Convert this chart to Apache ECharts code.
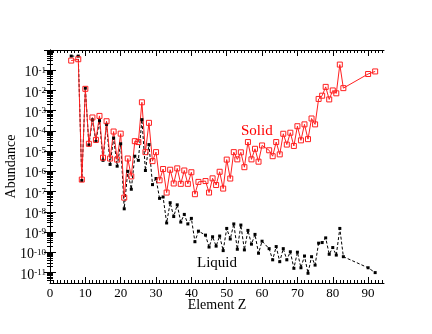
<!DOCTYPE html>
<html>
<head>
<meta charset="utf-8">
<script src="https://cdn.jsdelivr.net/npm/echarts@6/dist/echarts.min.js"></script>
<style>
  html, body { margin: 0; padding: 0; background: #fff; }
  #chart { width: 432px; height: 334px; }
</style>
</head>
<body>
<div id="chart"></div>
<script>
// element numbers (Tc 43, Pm 61, 84-89, 91 not present)
const elementZ = [6, 8, 9, 10, 11, 12, 13, 14, 15, 16, 17, 18, 19, 20, 21, 22, 23, 24, 25, 26,
  27, 28, 29, 30, 31, 32, 33, 34, 35, 36, 37, 38, 39, 40, 41, 42, 44, 45, 46, 47,
  48, 49, 50, 51, 52, 53, 54, 55, 56, 57, 58, 59, 60, 62, 63, 64, 65, 66, 67, 68,
  69, 70, 71, 72, 73, 74, 75, 76, 77, 78, 79, 80, 81, 82, 83, 90, 92];

const solid = [0.3, 0.35, 3.9e-7, 1.2e-2, 2.3e-5, 4.6e-4, 3.6e-5, 5.5e-4, 4.7e-6, 3.0e-4,
  4.3e-6, 9.3e-5, 3.8e-6, 7.3e-5, 5e-8, 4.3e-6, 5.6e-7, 3.1e-5, 2.8e-5, 2.6e-3,
  8.9e-6, 2.5e-4, 3.2e-6, 8.9e-6, 3.6e-7, 1.3e-6, 8.9e-8, 1.2e-6, 2.5e-7, 1.4e-6,
  2.4e-7, 1.1e-6, 2.4e-7, 9e-7, 7.4e-8, 3.0e-7, 3.3e-7, 8.9e-8, 4.5e-7, 2.1e-7,
  9.5e-7, 1.4e-7, 3.8e-6, 4.4e-7, 8.9e-6, 3.9e-6, 8.7e-6, 1.6e-6, 2.8e-5, 3.9e-6,
  1.3e-5, 3.0e-6, 1.9e-5, 1.1e-5, 5.6e-6, 2.8e-5, 6.9e-6, 7.2e-5, 2.1e-5, 8.1e-5,
  1.8e-5, 1.7e-4, 3.4e-5, 2.1e-4, 3.9e-5, 4.1e-4, 2.1e-4, 3.8e-3, 5.5e-3, 1.5e-2,
  3.6e-3, 1.0e-2, 7.2e-3, 0.19, 1.3e-2, 6.5e-2, 8.7e-2];

const liquid = [0.5, 0.5, 3.5e-7, 1.3e-2, 2.0e-5, 3.5e-4, 3.0e-5, 3.2e-4, 3.5e-6, 2.1e-4,
  2.2e-6, 4.4e-5, 1.8e-6, 2.3e-5, 1.4e-8, 1e-6, 1.3e-7, 5.6e-6, 3.5e-6, 3.6e-4,
  1.1e-6, 2.1e-5, 2.2e-7, 4.4e-7, 4.6e-8, 5.4e-8, 2.8e-9, 2.8e-8, 5.8e-9, 2.2e-8,
  3.1e-9, 7.4e-9, 2.5e-9, 4.7e-9, 3.3e-10, 1.1e-9, 7.0e-10, 1.8e-10, 5.8e-10, 2.0e-10,
  6.3e-10, 1.2e-10, 1.5e-9, 4.5e-10, 2.5e-9, 1.4e-10, 2.2e-9, 1.3e-10, 1.2e-9, 2.5e-10,
  7.6e-10, 8.9e-11, 3.5e-10, 1.5e-10, 4.2e-11, 1.9e-10, 3.4e-11, 1.5e-10, 4.2e-11, 1.05e-10,
  1.6e-11, 1.0e-10, 1.7e-11, 6.5e-11, 9.1e-12, 6.0e-11, 2.3e-11, 2.8e-10, 3.0e-10, 5.1e-10,
  7.9e-11, 1.7e-10, 7.2e-11, 1.5e-9, 6.0e-11, 1.7e-11, 9.8e-12];

const xMajor = [0, 10, 20, 30, 40, 50, 60, 70, 80, 90];
const yMajor = [1e-11, 1e-10, 1e-9, 1e-8, 1e-7, 1e-6, 1e-5, 1e-4, 1e-3, 1e-2, 1e-1];

const font = 'Liberation Serif';
const X_MIN = 0, X_MAX = 94.5;
const Y_MIN = 3e-12, Y_MAX = 1;

// minor ticks
const xMinor = [];
for (let i = 1; i < 95; i++) if (i % 10) xMinor.push(i);
const yMinor = [];
for (let e = -12; e < 0; e++) {
  for (let k = 2; k <= 9; k++) {
    const v = k * Math.pow(10, e);
    if (v > Y_MIN && v < Y_MAX) yMinor.push(v);
  }
}
const yMajorTicks = yMajor.concat([1]);

function xAxisDef(pos, values, len, line, labels) {
  return {
    type: 'value', position: pos, min: X_MIN, max: X_MAX,
    axisLine: { show: line, lineStyle: { color: '#000', width: 1 } },
    axisTick: { show: true, inside: true, length: len, customValues: values,
      lineStyle: { color: '#000', width: 1 } },
    axisLabel: labels ? {
      show: true, customValues: xMajor, margin: 4,
      fontFamily: font, fontSize: 13, color: '#000'
    } : { show: false },
    splitLine: { show: false },
    name: labels ? 'Element Z' : '',
    nameLocation: 'middle', nameGap: 15, nameMoveOverlap: false,
    nameTextStyle: { fontFamily: font, fontSize: 14, color: '#000' }
  };
}

function yAxisDef(pos, values, len, line, labels) {
  return {
    type: 'log', logBase: 10, position: pos, min: Y_MIN, max: Y_MAX,
    axisLine: { show: line, lineStyle: { color: '#000', width: 1 } },
    axisTick: { show: true, inside: true, length: len, customValues: values,
      lineStyle: { color: '#000', width: 1 } },
    axisLabel: labels ? {
      show: true, customValues: yMajor, margin: 4,
      padding: [5, 0, 0, 0],
      formatter: function (v) {
        return '{b|10}{s|' + Math.round(Math.log10(v)) + '}';
      },
      rich: {
        b: { fontFamily: font, fontSize: 14, lineHeight: 14, color: '#000', verticalAlign: 'bottom' },
        s: { fontFamily: font, fontSize: 9, lineHeight: 10, color: '#000', verticalAlign: 'top' }
      }
    } : { show: false },
    splitLine: { show: false },
    name: labels ? 'Abundance' : '',
    nameLocation: 'middle', nameGap: 32, nameRotate: 90, nameMoveOverlap: false,
    nameTextStyle: { fontFamily: font, fontSize: 14, color: '#000' }
  };
}

const chart = echarts.init(document.getElementById('chart'), null, { renderer: 'canvas' });

const option = {
  backgroundColor: '#fff',
  animation: false,
  grid: { left: 50, right: 48, top: 50, bottom: 51, containLabel: false, outerBoundsMode: 'none' },
  xAxis: [
    xAxisDef('bottom', xMajor, 6, true, true),
    xAxisDef('bottom', xMinor, 3, false, false),
    xAxisDef('top', xMajor, 6, true, false),
    xAxisDef('top', xMinor, 3, false, false)
  ],
  yAxis: [
    yAxisDef('left', yMajorTicks, 6, true, true),
    yAxisDef('left', yMinor, 3, false, false),
    yAxisDef('right', yMajorTicks, 6, true, false),
    yAxisDef('right', yMinor, 3, false, false)
  ],
  series: [
    {
      name: 'Liquid', type: 'line', xAxisIndex: 0, yAxisIndex: 0,
      data: elementZ.map((z, i) => [z, liquid[i]]),
      symbol: 'rect', symbolSize: 3,
      lineStyle: { color: '#000', width: 1, type: [3, 2] },
      itemStyle: { color: '#000' }
    },
    {
      name: 'Solid', type: 'line', xAxisIndex: 0, yAxisIndex: 0,
      data: elementZ.map((z, i) => [z, solid[i]]),
      symbol: 'rect', symbolSize: 5,
      lineStyle: { color: '#ff2020', width: 1 },
      itemStyle: { color: 'rgba(255,255,255,0)', borderColor: '#ff2020', borderWidth: 1 }
    }
  ],
  graphic: [
    { type: 'text', left: 241, top: 124,
      style: { text: 'Solid', fill: '#ff0000', font: '15px "Liberation Serif"' } },
    { type: 'text', left: 197, top: 256,
      style: { text: 'Liquid', fill: '#000', font: '15px "Liberation Serif"' } }
  ]
};

chart.setOption(option);
</script>
</body>
</html>
